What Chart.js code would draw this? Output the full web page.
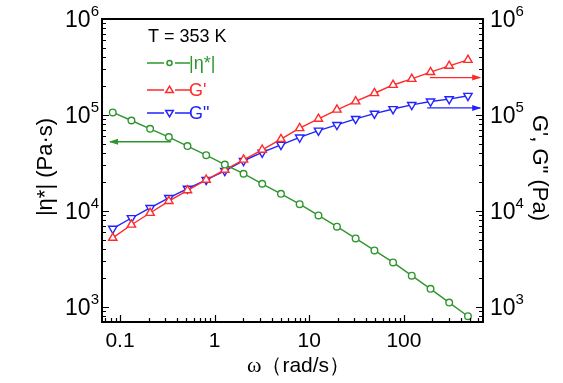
<!DOCTYPE html>
<html><head><meta charset="utf-8">
<script src="https://cdn.jsdelivr.net/npm/chart.js@4"></script>
<style>html,body{margin:0;padding:0;background:#fff;}canvas{display:block;}</style>
</head><body>
<canvas id="c" width="563" height="383"></canvas>
<script>
// ---- data ----
const omega = [0.0838,0.132,0.208,0.328,0.516,0.814,1.28,2.02,3.18,5.02,7.91,12.5,19.6,30.9,48.8,76.8,121,191,301,475];
const etaStar = [1.06e5,8.73e4,7.15e4,5.86e4,4.72e4,3.80e4,3.03e4,2.43e4,1.91e4,1.50e4,1.17e4,8.93e3,6.81e3,5.14e3,3.85e3,2.89e3,2.10e3,1.53e3,1.10e3,793];
const Gprime = [5.2e3,7.14e3,9.46e3,1.26e4,1.63e4,2.10e4,2.67e4,3.40e4,4.32e4,5.58e4,7.26e4,9.08e4,1.13e5,1.38e5,1.68e5,2.05e5,2.37e5,2.79e5,3.24e5,3.74e5];
const Gdouble = [6.49e3,8.39e3,1.07e4,1.36e4,1.70e4,2.10e4,2.61e4,3.32e4,4.05e4,4.87e4,5.81e4,6.86e4,7.86e4,9.08e4,1.03e5,1.15e5,1.27e5,1.38e5,1.46e5,1.58e5];
const xTickLabels = ['0.1','1','10','100'];
const xTickValues = [0.1,1,10,100];
const yTickExps = ['3','4','5','6'];
const yTickValues = [1e3,1e4,1e5,1e6];
const seriesNames = ['|\u03b7*|','G\'','G"'];
const tempLabel = 'T = 353 K';
// arrows pointing to the axis each curve belongs to: [x start, x end, y]
const arrowEta = [0.347, 0.0784, 5.24e4];
const arrowGp = [188, 640, 2.45e5];
const arrowGpp = [176, 640, 1.18e5];

const GREEN = '#2f962f', RED = '#ff2a2a', BLUE = '#2222ff';
const FONT = '"Liberation Sans", Arial, sans-serif';
const SERIF = '"Liberation Serif", "Times New Roman", serif';

function pts(xs, ys){ return xs.map((x,i)=>({x:x, y:ys[i]})); }

const decor = {
  id: 'decor',
  afterDraw(chart){
    const ctx = chart.ctx, a = chart.chartArea;
    const xs = chart.scales.x, ys = chart.scales.y;
    ctx.save();
    // arrows
    function arrow(spec, color, yScale){
      const x1 = xs.getPixelForValue(spec[0]), x2 = xs.getPixelForValue(spec[1]), y = yScale.getPixelForValue(spec[2]);
      ctx.strokeStyle = color; ctx.fillStyle = color; ctx.lineWidth = 1.3;
      ctx.beginPath(); ctx.moveTo(x1, y); ctx.lineTo(x2, y); ctx.stroke();
      const d = Math.sign(x2 - x1);
      ctx.beginPath(); ctx.moveTo(x2 + d*1, y); ctx.lineTo(x2 - d*8, y - 3); ctx.lineTo(x2 - d*8, y + 3); ctx.closePath(); ctx.fill();
    }
    arrow(arrowEta, GREEN, ys);
    arrow(arrowGp, RED, chart.scales.y2);
    arrow(arrowGpp, BLUE, chart.scales.y2);

    // frame
    ctx.strokeStyle = '#000'; ctx.lineWidth = 2;
    ctx.strokeRect(a.left, a.top, a.right - a.left, a.bottom - a.top);
    // ticks
    ctx.lineWidth = 1.2;
    ctx.beginPath();
    for (let e = -2; e <= 3; e++) {
      for (let m = 1; m <= 9; m++) {
        const v = m * Math.pow(10, e);
        if (v < xs.min || v > xs.max) continue;
        const px = Math.round(xs.getPixelForValue(v)) + 0.5;
        const L = m === 1 ? 7 : 4;
        ctx.moveTo(px, a.bottom); ctx.lineTo(px, a.bottom - L);
      }
    }
    for (let e = 2; e <= 6; e++) {
      for (let m = 1; m <= 9; m++) {
        const v = m * Math.pow(10, e);
        if (v < ys.min || v > ys.max) continue;
        const py = Math.round(ys.getPixelForValue(v)) + 0.5;
        const L = m === 1 ? 7 : 4;
        ctx.moveTo(a.left, py); ctx.lineTo(a.left + L, py);
        ctx.moveTo(a.right, py); ctx.lineTo(a.right - L, py);
      }
    }
    ctx.stroke();

    // x tick labels
    ctx.fillStyle = '#000';
    ctx.font = '21px ' + FONT;
    ctx.textAlign = 'center'; ctx.textBaseline = 'middle';
    xTickValues.forEach((v,i)=>{ ctx.fillText(xTickLabels[i], xs.getPixelForValue(v), a.bottom + 19); });

    // y tick labels with superscripts
    yTickValues.forEach((v,i)=>{
      const py = ys.getPixelForValue(v);
      ctx.font = '23px ' + FONT; const wb = ctx.measureText('10').width;
      ctx.font = '15px ' + FONT; const we = ctx.measureText(yTickExps[i]).width;
      ctx.textAlign = 'left';
      let x0 = a.left - 3 - we - wb;
      ctx.font = '23px ' + FONT; ctx.fillText('10', x0, py + 2);
      ctx.font = '15px ' + FONT; ctx.fillText(yTickExps[i], x0 + wb, py - 7);
      x0 = a.right + 7;
      ctx.font = '23px ' + FONT; ctx.fillText('10', x0, py + 2);
      ctx.font = '15px ' + FONT; ctx.fillText(yTickExps[i], x0 + wb, py - 7);
    });

    // x axis title: serif omega + "(rad/s)"
    ctx.textAlign = 'left'; ctx.textBaseline = 'middle';
    ctx.font = '22px ' + SERIF; const wo = ctx.measureText('\u03c9').width;
    ctx.font = '21px ' + FONT; const wr = ctx.measureText('\uff08rad/s\uff09').width;
    const xt0 = (a.left + a.right)/2 + 6 - (wo + wr)/2;
    ctx.font = '22px ' + SERIF; ctx.fillText('\u03c9', xt0, a.bottom + 44);
    ctx.font = '21px ' + FONT; ctx.fillText('\uff08rad/s\uff09', xt0 + wo, a.bottom + 44);

    ctx.textAlign = 'center';
    ctx.save(); ctx.translate(46, 167); ctx.rotate(-Math.PI/2);
    ctx.font = '22px ' + FONT; ctx.fillText('|\u03b7*| (Pa\u00b7s)', 0, 0); ctx.restore();
    ctx.save(); ctx.translate(539, 168); ctx.rotate(Math.PI/2);
    ctx.font = '22px ' + FONT; ctx.fillText('G\', G" (Pa)', 0, 0); ctx.restore();

    // legend
    ctx.textAlign = 'left';
    ctx.font = '18px ' + FONT; ctx.fillStyle = '#000';
    ctx.fillText(tempLabel, 148, 37);
    const rows = [[GREEN,'circle',63],[RED,'up',90],[BLUE,'down',113]];
    rows.forEach((r,i)=>{
      const [col, shape, y] = r;
      ctx.strokeStyle = col; ctx.lineWidth = 1.5;
      ctx.beginPath(); ctx.moveTo(147, y); ctx.lineTo(164, y); ctx.moveTo(175, y); ctx.lineTo(190, y); ctx.stroke();
      ctx.beginPath();
      if (shape === 'circle') { ctx.arc(169.5, y, 2.5, 0, Math.PI*2); }
      else if (shape === 'up') { ctx.moveTo(169.5, y-3.8); ctx.lineTo(173.3, y+2.5); ctx.lineTo(165.7, y+2.5); ctx.closePath(); }
      else { ctx.moveTo(169.5, y+3.8); ctx.lineTo(173.3, y-2.5); ctx.lineTo(165.7, y-2.5); ctx.closePath(); }
      ctx.fillStyle = '#fff'; ctx.fill(); ctx.stroke();
      ctx.fillStyle = col; ctx.font = '18px ' + FONT; ctx.textBaseline = 'middle';
      ctx.fillText(seriesNames[i], 189, y + 1);
    });
    ctx.restore();
  }
};

new Chart(document.getElementById('c'), {
  type: 'line',
  data: {
    datasets: [
      { label: seriesNames[0], data: pts(omega, etaStar), yAxisID: 'y', borderColor: GREEN, backgroundColor: '#fff',
        pointStyle: 'circle', pointRadius: 3.3, pointBorderWidth: 1.4, borderWidth: 1.4, pointBorderColor: GREEN },
      { label: seriesNames[1], data: pts(omega, Gprime), yAxisID: 'y2', borderColor: RED, backgroundColor: '#fff',
        pointStyle: 'triangle', pointRadius: 4.8, pointBorderWidth: 1.4, borderWidth: 1.4, pointBorderColor: RED },
      { label: seriesNames[2], data: pts(omega, Gdouble), yAxisID: 'y2', borderColor: BLUE, backgroundColor: '#fff',
        pointStyle: 'triangle', rotation: 180, pointRadius: 4.8, pointBorderWidth: 1.4, borderWidth: 1.4, pointBorderColor: BLUE }
    ]
  },
  options: {
    responsive: false, animation: false, devicePixelRatio: 1,
    layout: { padding: { left: 102, right: 80, top: 19, bottom: 61 } },
    plugins: { legend: { display: false }, tooltip: { enabled: false } },
    scales: {
      x: { type: 'logarithmic', min: 0.0645, max: 685, display: false },
      y: { type: 'logarithmic', min: 690, max: 1e6, display: false, position: 'left' },
      y2: { type: 'logarithmic', min: 690, max: 1e6, display: false, position: 'right' }
    }
  },
  plugins: [decor]
});
</script>
</body></html>
